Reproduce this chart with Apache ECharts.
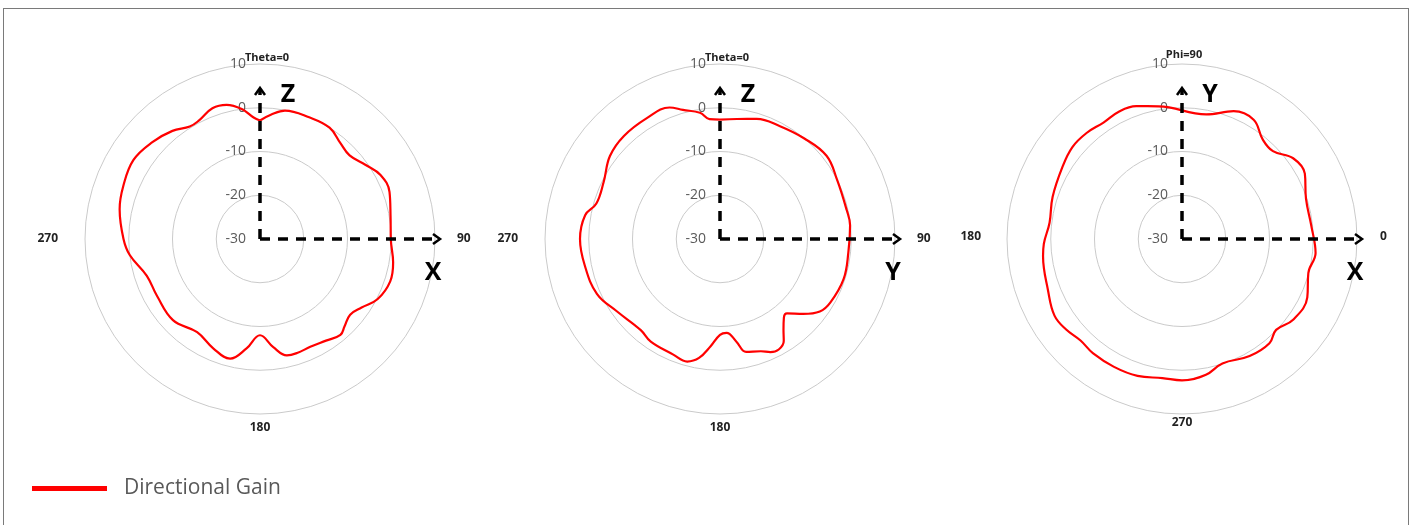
<!DOCTYPE html>
<html>
<head>
<meta charset="utf-8">
<script src="https://cdn.jsdelivr.net/npm/echarts@6/dist/echarts.min.js"></script>
<style>
html,body{margin:0;padding:0;background:#fff;overflow:hidden;}
#frame{position:absolute;left:3px;top:8px;width:1406px;height:540px;border:1.5px solid #7a7a7a;border-bottom:none;box-sizing:border-box;}
#main{position:absolute;left:0;top:0;width:1413px;height:525px;}
</style>
</head>
<body>
<div id="frame"></div>
<div id="main"></div>
<script>
// ---- data ----
const seriesName = 'Directional Gain';
const radiusMin = -30, radiusMax = 10, radiusStep = 10;

// Chart 1: Phi=0 plane, theta (deg, clockwise from Z) vs gain (dBi)
const theta1 = [0,5,11,22,32,40,47,55,62,70,80,90,100,108,117,124,130,136,140,147,155,162,167,173,180,187,194,203,214,227,241,252,263,270,282,291,302,312,321,328,333,340,346,352,357];
const gain1  = [-2.9,-1.5,-0.1,0.0,0.0,-1.4,-2.0,-0.5,1.2,1.5,0.3,-0.1,0.9,1.3,0.2,-2.0,-3.1,-2.2,-1.4,-2.3,-2.8,-2.6,-2.7,-5.1,-8.0,-4.8,-1.8,-2.8,-4.3,-2.8,-3.1,-2.8,0.0,1.2,2.8,3.5,4.1,3.1,1.8,0.3,0.5,1.8,1.6,0.0,-2.2];

// Chart 2: Phi=90 plane, theta vs gain
const theta2 = [0,8,17,28,40,52,63,77,84,96,108,120,126,132,138,141,145,148,152,156,160,167,171,176,180,185,190,195,202,214,221,235,246,259,270,280,286,296,307,317,329,339,344,351,355];
const gain2  = [-2.7,-2.3,-1.3,-0.8,0.0,0.9,0.0,-0.3,-0.1,-0.5,-0.3,-0.9,-1.8,-4.4,-7.1,-6.8,-4.7,-2.5,-1.4,-1.7,-2.7,-3.5,-6.3,-8.5,-8.1,-5.4,-2.4,-1.0,-1.5,-1.7,-2.4,-1.2,0.8,1.5,2.0,1.3,-0.6,-0.4,1.5,2.2,2.3,2.2,0.7,-0.8,-2.5];

// Chart 3: Theta=90 plane, phi (deg, counter-clockwise from X, unwrapped from 90) vs gain
const phi3  = [90,100,109,116,124,132,140,149,162,173,182,187,201,211,218,225,232,242,252,262,270,280,288,300,310,316,324,335,345,354,366,378,388,396,404,411,419,428,439];
const gain3 = [-0.6,0.8,2.1,2.5,2.1,2.6,2.7,1.9,1.1,0.5,1.6,2.0,2.8,4.0,3.6,2.8,3.1,3.1,2.9,2.1,2.3,1.5,-0.1,0.9,1.1,-0.1,1.4,1.6,-0.1,0.7,-0.3,-0.2,1.8,1.4,-1.1,-0.7,1.8,1.5,-1.0];

const labels1 = {0:'Theta=0', 90:'90', 180:'180', 270:'270'};
const labels3 = {90:'Phi=90', 180:'180', 270:'270', 360:'0'};
const axisLetters = [['Z','X'], ['Z','Y'], ['Y','X']];

// ---- build ----
function loop(angles, gains){
  const d = angles.map((a,i)=>[gains[i], a]);
  d.push([gains[0], angles[0] + 360]);
  return d;
}
const centers = [[260,239],[720,239],[1182,239]];
const R = 175;

function radiusAxis(i){
  return {
    polarIndex:i, type:'value', min:radiusMin, max:radiusMax, interval:radiusStep,
    axisLine:{show:false}, axisTick:{show:false},
    splitLine:{show:true, lineStyle:{color:'#cacaca', width:1}},
    axisLabel:{show:true, margin:14, color:'#5a5a5a', fontSize:14, fontFamily:'Open Sans'}
  };
}
const base = {fontWeight:'bold', color:'#222', fontFamily:'Open Sans'};
const richStd = {
  t:Object.assign({fontSize:11, padding:[0,0,0,14]}, base),
  r:Object.assign({fontSize:12, padding:[0,0,0,21]}, base),
  b:Object.assign({fontSize:12, padding:[7,0,0,0]}, base),
  l:Object.assign({fontSize:12, padding:[0,26,0,0]}, base)
};
const rich3 = {
  t:Object.assign({fontSize:11, padding:[0,0,3,4]}, base),
  r:Object.assign({fontSize:12, padding:[0,0,5,22]}, base),
  b:Object.assign({fontSize:12, padding:[2,0,0,0]}, base),
  l:Object.assign({fontSize:12, padding:[0,25,5,0]}, base)
};
function angleAxisStd(i){
  return {
    polarIndex:i, type:'value', min:0, max:360, interval:90, startAngle:90, clockwise:true,
    axisLine:{show:false}, axisTick:{show:false}, splitLine:{show:false},
    axisLabel:{show:true, margin:1, formatter:function(v){
      const m = {0:'t',90:'r',180:'b',270:'l'}[v];
      return m ? '{'+m+'|'+labels1[v]+'}' : '';
    }, rich:richStd}
  };
}
function angleAxis3(i){
  return {
    polarIndex:i, type:'value', min:90, max:450, interval:90, startAngle:90, clockwise:false,
    axisLine:{show:false}, axisTick:{show:false}, splitLine:{show:false},
    axisLabel:{show:true, margin:1, formatter:function(v){
      const m = {90:'t',180:'l',270:'b',360:'r'}[v];
      return m ? '{'+m+'|'+labels3[v]+'}' : '';
    }, rich:rich3}
  };
}
function lineSeries(i, data){
  return {
    name:seriesName, type:'line', coordinateSystem:'polar', polarIndex:i,
    data:data, smooth:0.4, showSymbol:false, symbol:'none', clip:false,
    lineStyle:{color:'#ff0000', width:2.2}, itemStyle:{color:'#ff0000'}, z:3
  };
}

const chart = echarts.init(document.getElementById('main'), null, {renderer:'canvas'});
const option = {
  animation:false,
  backgroundColor:'transparent',
  legend:{
    data:[seriesName], left:32, top:478, padding:0, icon:'rect', itemWidth:75, itemHeight:5,
    textStyle:{fontSize:21, color:'#595959', fontFamily:'Open Sans', padding:[2,0,0,12]},
    selectedMode:false
  },
  polar: centers.map(c=>({center:[c[0], c[1]], radius:R})),
  radiusAxis:[radiusAxis(0), radiusAxis(1), radiusAxis(2)],
  angleAxis:[angleAxisStd(0), angleAxisStd(1), angleAxis3(2)],
  series:[
    lineSeries(0, loop(theta1, gain1)),
    lineSeries(1, loop(theta2, gain2)),
    lineSeries(2, loop(phi3, gain3))
  ]
};
chart.setOption(option);

// ---- axis arrows and axis letters (decoration, anchored on each polar centre) ----
const graphics = [];
for (let i=0;i<3;i++){
  const c = chart.convertToPixel({seriesIndex:i}, [radiusMin, i===2?90:0]);
  const cx = c[0], cy = c[1];
  const dash = {stroke:'#000', lineWidth:3.5, lineDash:[10,8]};
  graphics.push({type:'line', shape:{x1:cx, y1:cy, x2:cx, y2:cy-150}, style:dash, z:10});
  graphics.push({type:'line', shape:{x1:cx, y1:cy, x2:cx+178, y2:cy}, style:dash, z:10});
  graphics.push({type:'polyline', shape:{points:[[cx-5,cy-144],[cx,cy-151],[cx+5,cy-144]]}, style:{stroke:'#000', lineWidth:2.5, fill:null}, z:10});
  graphics.push({type:'polyline', shape:{points:[[cx+173,cy-5],[cx+180,cy],[cx+173,cy+5]]}, style:{stroke:'#000', lineWidth:2.5, fill:null}, z:10});
  graphics.push({type:'text', x:cx+28, y:cy-144, style:{text:axisLetters[i][0], font:'bold 25px "Open Sans"', fill:'#000', align:'center', verticalAlign:'middle'}, z:10});
  graphics.push({type:'text', x:cx+173, y:cy+34, style:{text:axisLetters[i][1], font:'bold 25px "Open Sans"', fill:'#000', align:'center', verticalAlign:'middle'}, z:10});
}
chart.setOption({graphic:graphics});
</script>
</body>
</html>
